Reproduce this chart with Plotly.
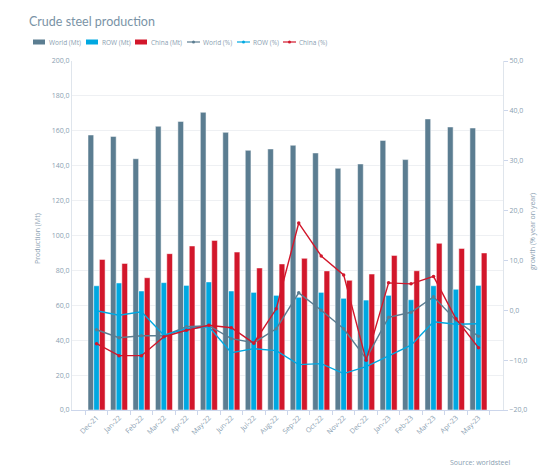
import plotly.graph_objects as go

months = ["Dec-21", "Jan-22", "Feb-22", "Mar-22", "Apr-22", "May-22", "Jun-22", "Jul-22", "Aug-22",
          "Sep-22", "Oct-22", "Nov-22", "Dec-22", "Jan-23", "Feb-23", "Mar-23", "Apr-23", "May-23"]

world_mt = [157.6, 156.8, 144.0, 162.6, 165.4, 170.6, 159.1, 148.8, 149.6,
            151.7, 147.3, 138.5, 141.0, 154.5, 143.5, 166.8, 162.2, 161.6]
row_mt = [71.2, 72.8, 68.2, 73.0, 71.4, 73.4, 68.2, 67.4, 65.7,
          64.6, 67.4, 64.0, 63.0, 65.7, 63.2, 71.2, 69.2, 71.4]
china_mt = [86.3, 84.0, 75.8, 89.6, 94.0, 97.2, 90.5, 81.4, 83.7,
            86.9, 79.7, 74.3, 77.9, 88.6, 79.8, 95.5, 92.6, 90.0]

world_pct = [-3.9, -5.5, -5.1, -5.1, -3.3, -3.1, -5.7, -6.5, -3.7,
             3.5, 0.0, -3.7, -9.7, -1.4, -0.4, 2.7, -2.0, -5.2]
row_pct = [-0.1, -1.0, -0.3, -5.0, -3.7, -3.3, -8.5, -7.7, -8.1,
           -10.9, -10.7, -12.7, -11.3, -9.2, -7.0, -2.3, -2.8, -2.7]
china_pct = [-6.7, -9.1, -9.1, -5.3, -4.0, -3.0, -3.5, -6.6, 0.3,
             17.5, 10.9, 7.1, -10.0, 5.5, 5.3, 6.8, -1.7, -7.5]

left_ticks = [0, 20, 40, 60, 80, 100, 120, 140, 160, 180, 200]
right_ticks = [-20, -10, 0, 10, 20, 30, 40, 50]

C_WORLD = "#5b7d91"
C_ROW = "#00a8e1"
C_CHINA = "#d2172b"
TXT = "#8aa0b1"
FONT = "Open Sans"

bar_series = [("World (Mt)", world_mt, C_WORLD), ("ROW (Mt)", row_mt, C_ROW), ("China (Mt)", china_mt, C_CHINA)]
line_series = [("World (%)", world_pct, C_WORLD), ("ROW (%)", row_pct, C_ROW), ("China (%)", china_pct, C_CHINA)]

fig = go.Figure()
for name, vals, col in bar_series:
    fig.add_bar(x=months, y=vals, name=name, showlegend=False,
                marker=dict(color=col, line=dict(color="white", width=0.5)))
for name, vals, col in line_series:
    fig.add_scatter(x=months, y=vals, name=name, yaxis="y2", mode="lines+markers", showlegend=False,
                    line=dict(color=col, width=1.4), marker=dict(color=col, size=3.5))

# compact legend (pixel offsets from the plot's top-left corner)
shapes = []
annotations = []
legend_x = [-39, 14, 63, 115, 165, 211]
ly = 19
items = [(n, c, "bar") for n, _, c in bar_series] + [(n, c, "line") for n, _, c in line_series]
for (name, col, kind), lx in zip(items, legend_x):
    if kind == "bar":
        shapes.append(dict(type="rect", xref="paper", yref="paper", xsizemode="pixel", ysizemode="pixel",
                           xanchor=0, yanchor=1, x0=lx, x1=lx + 12, y0=ly - 2.5, y1=ly + 2.5,
                           fillcolor=col, line=dict(width=0)))
    else:
        shapes.append(dict(type="line", xref="paper", yref="paper", xsizemode="pixel", ysizemode="pixel",
                           xanchor=0, yanchor=1, x0=lx, x1=lx + 13, y0=ly, y1=ly,
                           line=dict(color=col, width=1.2)))
        shapes.append(dict(type="circle", xref="paper", yref="paper", xsizemode="pixel", ysizemode="pixel",
                           xanchor=0, yanchor=1, x0=lx + 5, x1=lx + 8, y0=ly - 1.5, y1=ly + 1.5,
                           fillcolor=col, line=dict(width=0)))
    annotations.append(dict(text=name, xref="paper", yref="paper", x=0, y=1, xshift=lx + 13.5, yshift=ly,
                            xanchor="left", yanchor="middle", showarrow=False,
                            font=dict(size=6.5, color=TXT, family=FONT)))

# axis titles
annotations.append(dict(text="Production (Mt)", xref="paper", yref="paper", x=0, xshift=-34, y=0.49,
                        textangle=-90, xanchor="center", yanchor="middle", showarrow=False,
                        font=dict(size=7, color=TXT)))
annotations.append(dict(text="growth (% year on year)", xref="paper", yref="paper", x=1, xshift=29, y=0.51,
                        textangle=-90, xanchor="center", yanchor="middle", showarrow=False,
                        font=dict(size=7, color=TXT)))
annotations.append(dict(text="Source: worldsteel", xref="paper", yref="paper", x=1.021, y=-0.149,
                        xanchor="right", yanchor="middle", showarrow=False, font=dict(size=7, color=TXT)))

fig.update_layout(
    width=557, height=473,
    margin=dict(l=72, r=54, t=61, b=63),
    paper_bgcolor="white", plot_bgcolor="white",
    separators=", ",
    font=dict(family=FONT, color=TXT, size=7),
    barmode="group", bargap=0.24, bargroupgap=0,
    showlegend=False,
    title=dict(text="Crude steel production", x=0, xref="container", xanchor="left", y=1 - 22 / 473,
               yanchor="middle", pad=dict(l=29), font=dict(family="Lato", size=12.5, color="#7a93a6")),
    xaxis=dict(type="category", tickangle=-45, tickson="boundaries", ticks="outside", ticklen=4,
               tickcolor="#ccd6eb", showline=True, linecolor="#ccd6eb", linewidth=1,
               showgrid=False, tickfont=dict(size=7, color=TXT)),
    yaxis=dict(range=[0, 200], tickvals=left_ticks, tickformat=".1f", showgrid=True, gridcolor="#eef0f3",
               gridwidth=1, showline=True, linecolor="#dfe5ec", zeroline=False,
               tickfont=dict(size=7, color=TXT)),
    yaxis2=dict(range=[-20, 50], tickvals=right_ticks, tickformat=".1f", overlaying="y", side="right",
                showgrid=False, showline=True, linecolor="#dfe5ec", zeroline=False,
                ticks="outside", ticklen=4, tickcolor="#ccd6eb",
                tickfont=dict(size=7, color=TXT)),
    shapes=shapes,
    annotations=annotations,
)

fig.write_html("out.html", config={"displayModeBar": False},
               post_script="document.body.style.margin='0';")
